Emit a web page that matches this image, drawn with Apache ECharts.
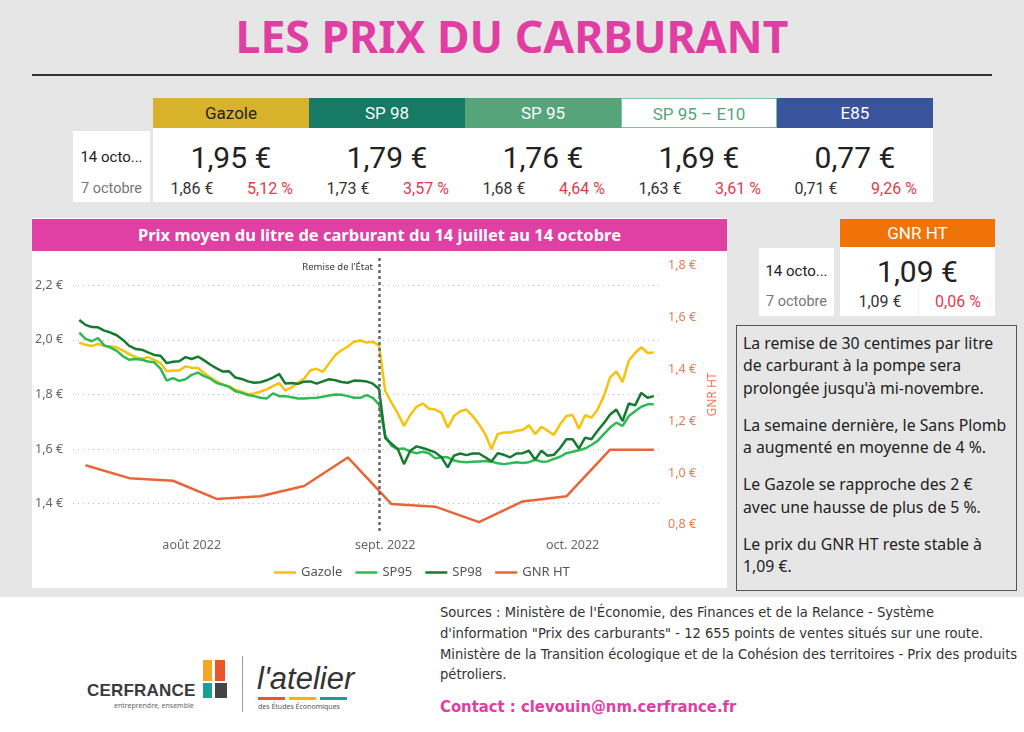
<!DOCTYPE html>
<html lang="fr">
<head>
<meta charset="utf-8">
<title>Les prix du carburant</title>
<script src="https://cdn.jsdelivr.net/npm/echarts@6.0.0/dist/echarts.min.js"></script>
<style>
    html, body { margin: 0; padding: 0; }
    body { width: 1024px; height: 732px; position: relative; overflow: hidden; background: #fff; font-family: 'Noto Sans', 'Open Sans', sans-serif; color: #222; }
    .abs { position: absolute; }
    #fond { left: 0; top: 0; width: 1024px; height: 597px; background: #e6e6e6; }
    #titre { left: 0; top: 6px; width: 1024px; text-align: center; font-size: 44.5px; font-weight: 700; color: #e03ea2; line-height: 60px; }
    #trait { left: 32px; top: 74px; width: 960px; height: 2px; background: #333; }
    .entete { height: 30px; line-height: 30px; text-align: center; font-family: Roboto, sans-serif; font-size: 17px; color: #fff; box-sizing: border-box; }
    .blanc { background: #fff; }
    .grand { text-align: center; font-family: Roboto, sans-serif; font-size: 30px; color: #222; line-height: 36px; }
    .petit { text-align: center; font-family: Roboto, sans-serif; font-size: 16px; line-height: 20px; color: #333; width: 78px; }
    .rouge { color: #e23b4e; }
    .date1 { font-family: Roboto, sans-serif; font-size: 15px; color: #222; text-align: center; line-height: 20px; }
    .date2 { font-family: Roboto, sans-serif; font-size: 14.5px; color: #777; text-align: center; line-height: 20px; }
    #graphPanel { left: 32px; top: 218px; width: 695px; height: 370px; background: #fff; }
    #graphTitre { left: 32px; top: 219px; width: 695px; height: 32px; line-height: 32px; background: #e03fa3; color: #fff; text-align: center; font-size: 16.5px; font-weight: 700; }
    #chart { left: 32px; top: 252px; width: 695px; height: 334px; }
    #texte { left: 736px; top: 325px; width: 281px; height: 266px; border: 1px solid #555; box-sizing: border-box; padding: 6px 0 0 6px; font-size: 15.8px; line-height: 22.3px; color: #222; }
    #texte p { margin: 0 0 15px 0; white-space: nowrap; }
    #sources { left: 440px; top: 602px; font-family: 'Liberation Sans Narrow', 'DejaVu Sans Condensed', sans-serif; font-size: 14.6px; line-height: 20.8px; color: #333; white-space: nowrap; }
    #contact { left: 440px; top: 697px; font-family: 'Liberation Sans Narrow', 'DejaVu Sans Condensed', sans-serif; font-size: 16.5px; font-weight: 700; color: #e03ea2; white-space: nowrap; }
</style>
</head>
<body>
<div class="abs" id="fond"></div>
<div class="abs" id="titre">LES PRIX DU CARBURANT</div>
<div class="abs" id="trait"></div>

<div id="cartes"></div>

<div class="abs" id="graphPanel"></div>
<div class="abs" id="graphTitre">Prix moyen du litre de carburant du 14 juillet au 14 octobre</div>
<div class="abs" id="chart"></div>

<div class="abs" id="texte">
    <p>La remise de 30 centimes par litre<br>de carburant à la pompe sera<br>prolongée jusqu'à mi-novembre.</p>
    <p>La semaine dernière, le Sans Plomb<br>a augmenté en moyenne de 4 %.</p>
    <p>Le Gazole se rapproche des 2 €<br>avec une hausse de plus de 5 %.</p>
    <p>Le prix du GNR HT reste stable à<br>1,09 €.</p>
</div>

<!-- logos -->
<div class="abs" style="left:203px;top:660px;width:9px;height:21px;background:#f5a623"></div>
<div class="abs" style="left:215px;top:660px;width:10px;height:21px;background:#e8562a"></div>
<div class="abs" style="left:203px;top:683px;width:9px;height:15px;background:#18a096"></div>
<div class="abs" style="left:215px;top:683px;width:12px;height:15px;background:#444"></div>
<div class="abs" style="left:87px;top:681px;font-family:'Liberation Sans Narrow',sans-serif;font-weight:700;font-size:17px;color:#3a3a3a;letter-spacing:0.2px">CERFRANCE</div>
<div class="abs" style="left:114px;top:701px;font-size:7px;color:#666">entreprendre, ensemble</div>
<div class="abs" style="left:242px;top:656px;width:1px;height:56px;background:#999"></div>
<div class="abs" style="left:257px;top:661px;font-family:'Liberation Sans Narrow',sans-serif;font-style:italic;font-size:31px;color:#333">l'atelier</div>
<div class="abs" style="left:258px;top:697px;width:27px;height:3px;background:#e8562a"></div>
<div class="abs" style="left:289px;top:697px;width:27px;height:3px;background:#f5b400"></div>
<div class="abs" style="left:320px;top:697px;width:27px;height:3px;background:#18a096"></div>
<div class="abs" style="left:258px;top:702px;font-size:7px;color:#555">des Études Économiques</div>

<div class="abs" id="sources">Sources : Ministère de l'Économie, des Finances et de la Relance - Système<br>d'information "Prix des carburants" - 12 655 points de ventes situés sur une route.<br>Ministère de la Transition écologique et de la Cohésion des territoires - Prix des produits<br>pétroliers.</div>
<div class="abs" id="contact">Contact : clevouin@nm.cerfrance.fr</div>

<script>
// Cartes de prix (14 octobre / 7 octobre)
const carburants = ['Gazole', 'SP 98', 'SP 95', 'SP 95 – E10', 'E85'];
const prix14oct = [1.95, 1.79, 1.76, 1.69, 0.77];
const prix7oct = [1.86, 1.73, 1.68, 1.63, 0.71];
const variations = [5.12, 3.57, 4.64, 3.61, 9.26];
const couleursEntete = ['#d9b22b', '#167a64', '#55a47a', '#fff', '#3a539d'];
const couleursTexte = ['#222', '#fff', '#fff', '#55a47a', '#fff'];

const gnrPrix14 = 1.09;
const gnrPrix7 = 1.09;
const gnrVariation = 0.06;

// Séries du graphique : valeurs quotidiennes du 14 juillet au 14 octobre 2022
const jourDebut = '2022-07-14';
const gazole = [
    1.990, 1.982, 1.978, 1.985, 1.978, 1.976, 1.973, 1.961, 1.948, 1.937,
    1.931, 1.937, 1.927, 1.915, 1.885, 1.888, 1.888, 1.903, 1.898, 1.897,
    1.879, 1.861, 1.848, 1.836, 1.830, 1.818, 1.810, 1.801, 1.804, 1.810,
    1.819, 1.831, 1.842, 1.814, 1.826, 1.843, 1.858, 1.889, 1.894, 1.883,
    1.914, 1.945, 1.962, 1.976, 1.993, 1.998, 1.990, 1.993, 1.980, 1.812,
    1.770, 1.731, 1.685, 1.725, 1.755, 1.767, 1.748, 1.745, 1.733, 1.679,
    1.721, 1.739, 1.745, 1.721, 1.691, 1.655, 1.600, 1.655, 1.661, 1.661,
    1.667, 1.670, 1.687, 1.655, 1.682, 1.667, 1.652, 1.691, 1.721, 1.725,
    1.675, 1.724, 1.715, 1.745, 1.794, 1.863, 1.885, 1.845, 1.924, 1.952,
    1.973, 1.952, 1.954
];
const sp95 = [
    2.027, 2.004, 1.995, 2.007, 1.980, 1.972, 1.960, 1.940, 1.927, 1.930,
    1.927, 1.921, 1.918, 1.895, 1.851, 1.860, 1.850, 1.856, 1.872, 1.880,
    1.867, 1.858, 1.842, 1.836, 1.828, 1.812, 1.806, 1.798, 1.794, 1.788,
    1.785, 1.804, 1.794, 1.794, 1.790, 1.785, 1.785, 1.787, 1.788, 1.792,
    1.796, 1.800, 1.799, 1.794, 1.788, 1.788, 1.798, 1.788, 1.764, 1.648,
    1.612, 1.600, 1.602, 1.591, 1.585, 1.590, 1.585, 1.566, 1.570, 1.570,
    1.558, 1.554, 1.552, 1.554, 1.555, 1.556, 1.554, 1.548, 1.545, 1.548,
    1.552, 1.549, 1.552, 1.561, 1.554, 1.555, 1.564, 1.572, 1.585, 1.590,
    1.596, 1.602, 1.615, 1.630, 1.655, 1.679, 1.697, 1.685, 1.721, 1.739,
    1.755, 1.764, 1.764
];
const sp98 = [
    2.073, 2.055, 2.047, 2.046, 2.034, 2.027, 2.017, 2.000, 1.978, 1.967,
    1.964, 1.954, 1.945, 1.942, 1.915, 1.920, 1.922, 1.937, 1.930, 1.939,
    1.925, 1.909, 1.896, 1.884, 1.885, 1.862, 1.857, 1.848, 1.843, 1.845,
    1.852, 1.862, 1.875, 1.840, 1.842, 1.839, 1.847, 1.848, 1.840, 1.848,
    1.856, 1.852, 1.846, 1.843, 1.851, 1.850, 1.848, 1.840, 1.820, 1.640,
    1.620, 1.600, 1.545, 1.594, 1.610, 1.604, 1.596, 1.588, 1.570, 1.533,
    1.576, 1.584, 1.578, 1.584, 1.584, 1.570, 1.555, 1.585, 1.579, 1.570,
    1.584, 1.585, 1.594, 1.561, 1.594, 1.576, 1.579, 1.604, 1.636, 1.636,
    1.602, 1.642, 1.636, 1.667, 1.695, 1.727, 1.745, 1.703, 1.767, 1.760,
    1.806, 1.788, 1.794
];
// GNR HT : relevés hebdomadaires (axe de droite)
const gnrDates = ['2022-07-15', '2022-07-22', '2022-07-29', '2022-08-05', '2022-08-12', '2022-08-19', '2022-08-26',
    '2022-09-02', '2022-09-09', '2022-09-16', '2022-09-23', '2022-09-30', '2022-10-07', '2022-10-14'];
const gnrHT = [1.03, 0.98, 0.97, 0.90, 0.91, 0.95, 1.06, 0.88, 0.87, 0.81, 0.89, 0.91, 1.09, 1.09];

const remiseDate = '2022-08-31';
const moisLabels = { '08': 'août 2022', '09': 'sept. 2022', '10': 'oct. 2022' };

function euro(v) {
    return v.toFixed(2).replace('.', ',') + ' €';
}
function pct(v) {
    return v.toFixed(2).replace('.', ',') + ' %';
}

function addDiv(cls, style, html) {
    const d = document.createElement('div');
    d.className = 'abs ' + (cls || '');
    d.setAttribute('style', style);
    d.innerHTML = html || '';
    document.getElementById('cartes').appendChild(d);
    return d;
}

/**
 * Cartes du haut
 */
function drawCards() {
    addDiv('blanc', 'left:73px;top:131px;width:77px;height:71px');
    addDiv('date1', 'left:73px;top:147px;width:77px', '14 octo...');
    addDiv('date2', 'left:73px;top:179px;width:77px', '7 octobre');
    addDiv('blanc', 'left:153px;top:128px;width:780px;height:74px');

    carburants.forEach(function(nom, i) {
        const x = 153 + i * 156;
        let st = 'left:' + x + 'px;top:98px;width:156px;background:' + couleursEntete[i] + ';color:' + couleursTexte[i] + ';';
        if (couleursEntete[i] === '#fff') st += 'border:1px solid #7cc49a;';
        addDiv('entete', st, nom);
        addDiv('grand', 'left:' + x + 'px;top:140px;width:156px', euro(prix14oct[i]));
        addDiv('petit', 'left:' + x + 'px;top:179px', euro(prix7oct[i]));
        addDiv('petit rouge', 'left:' + (x + 78) + 'px;top:179px', pct(variations[i]));
    });

    // carte GNR HT
    addDiv('blanc', 'left:759px;top:248px;width:75px;height:68px');
    addDiv('date1', 'left:759px;top:261px;width:75px', '14 octo...');
    addDiv('date2', 'left:759px;top:292px;width:75px', '7 octobre');
    addDiv('entete', 'left:840px;top:219px;width:155px;height:28px;line-height:28px;background:#f07308', 'GNR HT');
    addDiv('blanc', 'left:840px;top:247px;width:155px;height:69px');
    addDiv('grand', 'left:840px;top:254px;width:155px', euro(gnrPrix14));
    addDiv('petit', 'left:841px;top:292px', euro(gnrPrix7));
    addDiv('', 'left:918px;top:290px;width:1px;height:26px;background:#eee');
    addDiv('petit rouge', 'left:919px;top:292px', pct(gnrVariation));
}

/**
 * Graphique des prix moyens
 */
function drawChart() {
    // axe des jours : un jour avant et après la période
    const jours = [];
    const d0 = new Date(jourDebut + 'T12:00:00Z');
    for (let i = -1; i <= gazole.length; i++) {
        const d = new Date(d0.getTime() + i * 86400000);
        jours.push(d.toISOString().slice(0, 10));
    }
    const pad = function(arr) { return [null].concat(arr, [null]); };
    const gnrData = jours.map(function(j) {
        const k = gnrDates.indexOf(j);
        return k >= 0 ? gnrHT[k] : null;
    });

    const fmt = function(v) { return v.toFixed(1).replace('.', ',') + ' €'; };
    const chart = echarts.init(document.getElementById('chart'));

    const option = {
        animation: false,
        textStyle: { fontFamily: "'Noto Sans', sans-serif" },
        grid: { left: 41, right: 54, top: 6, bottom: 55 },
        legend: {
            data: ['Gazole', 'SP95', 'SP98', 'GNR HT'],
            left: 237,
            top: 309,
            icon: 'rect',
            itemWidth: 22,
            itemHeight: 2.5,
            itemGap: 13,
            textStyle: { color: '#555', fontSize: 13 }
        },
        xAxis: {
            type: 'category',
            boundaryGap: false,
            data: jours,
            axisLine: { show: false },
            axisTick: { show: false },
            axisLabel: {
                color: '#666',
                fontSize: 12.5,
                margin: 8,
                interval: function(idx, val) { return val.slice(8) === '01'; },
                formatter: function(val) { return moisLabels[val.slice(5, 7)] || ''; }
            }
        },
        yAxis: [
            {
                type: 'value',
                min: 1.3,
                max: 2.3,
                splitNumber: 5,
                axisLine: { show: false },
                axisTick: { show: false },
                axisLabel: { color: '#666', fontSize: 12.5, margin: 10, showMinLabel: false, showMaxLabel: false, formatter: fmt },
                splitLine: { showMinLine: false, showMaxLine: false, lineStyle: { type: [1, 4], color: '#bbb', width: 1.2 } }
            },
            {
                type: 'value',
                min: 0.776,
                max: 1.83,
                splitNumber: 5,
                name: 'GNR HT',
                nameLocation: 'middle',
                nameRotate: 90,
                nameGap: 42,
                nameTextStyle: { color: '#ec7a50', fontSize: 12 },
                axisLine: { show: false },
                axisTick: { show: false },
                axisLabel: { color: '#ec7a50', fontSize: 12.5, margin: 8, showMinLabel: false, showMaxLabel: false, formatter: fmt },
                splitLine: { show: false }
            }
        ],
        series: [
            {
                name: 'Gazole',
                type: 'line',
                data: pad(gazole),
                showSymbol: false,
                symbol: 'none',
                lineStyle: { width: 2.5 },
                itemStyle: { color: '#f7c20c' },
                markLine: {
                    silent: true,
                    symbol: 'none',
                    label: { show: false },
                    lineStyle: { type: [3, 3], color: '#666', width: 2.5 },
                    data: [{ xAxis: remiseDate }]
                }
            },
            {
                name: 'SP95',
                type: 'line',
                data: pad(sp95),
                showSymbol: false,
                symbol: 'none',
                lineStyle: { width: 2.5 },
                itemStyle: { color: '#2dbb55' }
            },
            {
                name: 'SP98',
                type: 'line',
                data: pad(sp98),
                showSymbol: false,
                symbol: 'none',
                lineStyle: { width: 2.5 },
                itemStyle: { color: '#167a30' }
            },
            {
                name: 'GNR HT',
                type: 'line',
                yAxisIndex: 1,
                data: gnrData,
                connectNulls: true,
                showSymbol: false,
                symbol: 'none',
                lineStyle: { width: 2.5 },
                itemStyle: { color: '#e8653a' }
            }
        ]
    };

    chart.setOption(option);

    // libellé de la remise, à gauche du trait pointillé
    const px = chart.convertToPixel({ xAxisIndex: 0 }, remiseDate);
    chart.setOption({
        graphic: [{
            type: 'text',
            x: px - 6,
            y: 10,
            style: { text: "Remise de l'État", fill: '#333', fontSize: 9.5, align: 'right', verticalAlign: 'top', fontFamily: "'Noto Sans', sans-serif" }
        }]
    });
}

drawCards();
drawChart();
</script>
</body>
</html>
